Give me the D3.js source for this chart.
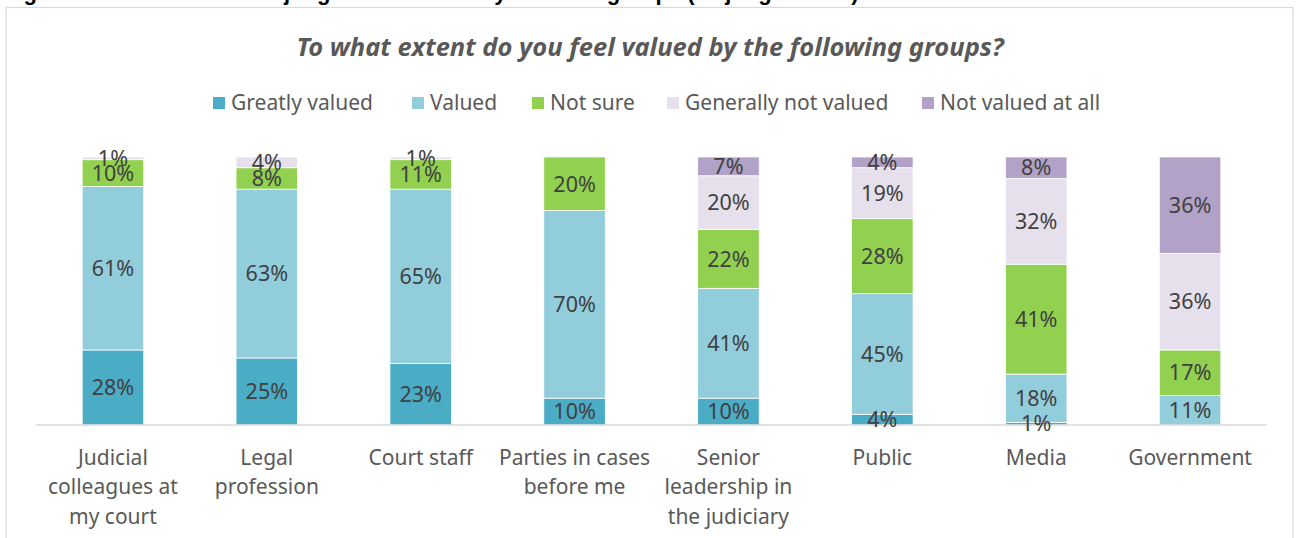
<!DOCTYPE html>
<html>
<head>
<meta charset="utf-8">
<script src="https://cdn.jsdelivr.net/npm/d3@7"></script>
<style>
  html, body { margin: 0; padding: 0; background: #fff; }
  svg { display: block; font-family: "Noto Sans", "Open Sans", sans-serif; }
</style>
</head>
<body>
<svg id="chart" width="1296" height="538"></svg>
<script>
// Survey groups (x axis), one stacked bar each
const categories = [
  "Judicial colleagues at my court",
  "Legal profession",
  "Court staff",
  "Parties in cases before me",
  "Senior leadership in the judiciary",
  "Public",
  "Media",
  "Government"
];
// Wrapped tick labels, one array of lines per category
const tickLabels = [
  ["Judicial", "colleagues at", "my court"],
  ["Legal", "profession"],
  ["Court staff"],
  ["Parties in cases", "before me"],
  ["Senior", "leadership in", "the judiciary"],
  ["Public"],
  ["Media"],
  ["Government"]
];
// Response options, stacked from the bottom up
const seriesNames = ["Greatly valued", "Valued", "Not sure", "Generally not valued", "Not valued at all"];
const seriesColors = ["#4bacc6", "#92cddc", "#92d050", "#e6e0ec", "#b3a2c7"];
// Percentages per series, in category order
const greatlyValued      = [28, 25, 23, 10, 10,  4,  1,  0];
const valued             = [61, 63, 65, 70, 41, 45, 18, 11];
const notSure            = [10,  8, 11, 20, 22, 28, 41, 17];
const generallyNotValued = [ 1,  4,  1,  0, 20, 19, 32, 36];
const notValuedAtAll     = [ 0,  0,  0,  0,  7,  4,  8, 36];

const seriesValues = [greatlyValued, valued, notSure, generallyNotValued, notValuedAtAll];

const rows = categories.map((c, i) => {
  const r = { category: c };
  seriesNames.forEach((s, k) => { r[s] = seriesValues[k][i]; });
  return r;
});

const svg = d3.select("#chart");

// Outer frame
svg.append("rect")
  .attr("x", 6).attr("y", 7.5)
  .attr("width", 1287).attr("height", 560)
  .attr("fill", "none").attr("stroke", "#d9d9d9").attr("stroke-width", 1.2);

// Figure caption sitting above the frame
svg.append("text")
  .attr("x", 4).attr("y", 0)
  .attr("font-family", "'Liberation Sans', sans-serif")
  .attr("font-weight", "bold").attr("font-size", 22)
  .attr("fill", "#000")
  .text("Figure 10: Extent to which judges feel valued by different groups (all judges 2022)");

// Chart title
svg.append("text")
  .attr("x", 650).attr("y", 56)
  .attr("text-anchor", "middle")
  .attr("font-weight", "bold").attr("font-style", "italic")
  .attr("font-size", 25.5).attr("fill", "#595959")
  .text("To what extent do you feel valued by the following groups?");

// Legend
const legendX = [213, 412, 532, 667, 922];
const legend = svg.append("g");
seriesNames.forEach((s, k) => {
  const g = legend.append("g").attr("transform", `translate(${legendX[k]},103)`);
  g.append("rect").attr("x", 0).attr("y", -6).attr("width", 12).attr("height", 12)
    .attr("fill", seriesColors[k]);
  g.append("text").attr("x", 18).attr("y", 0).attr("dy", "0.35em")
    .attr("font-size", 21).attr("fill", "#595959").text(s);
});

// Scales
const x = d3.scaleBand().domain(categories).range([36, 1267])
  .paddingInner(0.6).paddingOuter(0.3);
const y = d3.scaleLinear().domain([0, 100]).range([425, 157]);
const color = d3.scaleOrdinal().domain(seriesNames).range(seriesColors);

const layers = d3.stack().keys(seriesNames)(rows);

// Bars
const layerG = svg.append("g").selectAll("g").data(layers).join("g")
  .attr("fill", d => color(d.key));
layerG.selectAll("rect").data(d => d.map(v => ({ key: d.key, v })))
  .join("rect")
  .attr("x", d => x(d.v.data.category))
  .attr("y", d => y(d.v[1]))
  .attr("width", x.bandwidth())
  .attr("height", d => Math.max(0, y(d.v[0]) - y(d.v[1])))
  .attr("stroke", "#fff").attr("stroke-width", 0.8);

// Category axis
const xAxis = svg.append("g").attr("transform", "translate(0,425)")
  .call(d3.axisBottom(x).tickSize(0).tickFormat(""));
xAxis.select(".domain").attr("stroke", "#d9d9d9").attr("stroke-width", 1.5)
  .attr("d", "M36,0H1267");
xAxis.selectAll(".tick").each(function(d, i) {
  const t = d3.select(this).append("text")
    .attr("text-anchor", "middle").attr("font-size", 21).attr("fill", "#595959")
    .attr("font-family", "'Noto Sans', sans-serif");
  tickLabels[i].forEach((line, j) => {
    t.append("tspan").attr("x", 0).attr("y", 40 + j * 29.3).text(line);
  });
});

// Data labels, centred in each segment
const labelG = svg.append("g");
layers.forEach(layer => {
  layer.forEach(v => {
    const val = v[1] - v[0];
    if (val <= 0) return;
    labelG.append("text")
      .attr("x", x(v.data.category) + x.bandwidth() / 2)
      .attr("y", (y(v[0]) + y(v[1])) / 2)
      .attr("dy", "0.36em")
      .attr("text-anchor", "middle")
      .attr("font-size", 21.5).attr("fill", "#404040")
      .text(val + "%");
  });
});
</script>
</body>
</html>
